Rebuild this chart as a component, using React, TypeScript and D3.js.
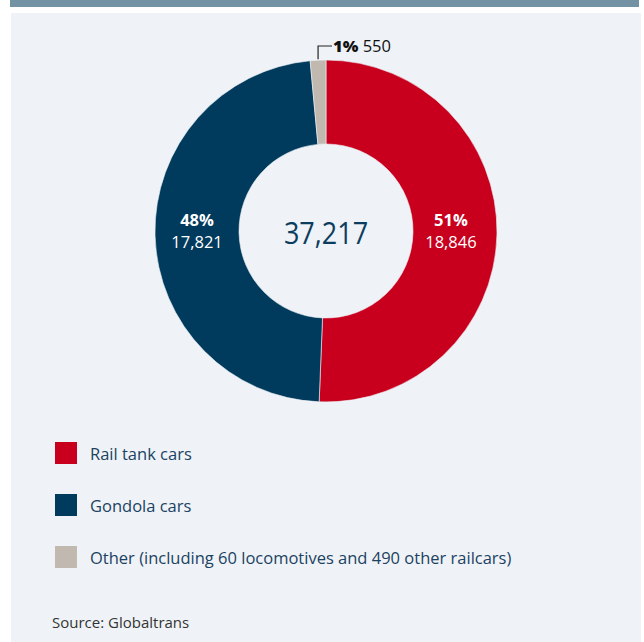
import React from "react";
import * as d3 from "d3";

const categories = ["Rail tank cars", "Gondola cars", "Other (including 60 locomotives and 490 other railcars)"];
const values = [18846, 17821, 550];
const percentLabels = ["51%", "48%", "1%"];
const valueLabels = ["18,846", "17,821", "550"];
const colors = ["#c8001e", "#003a5c", "#c1b8b0"];
const totalLabel = "37,217";
const sourceText = "Source: Globaltrans";

const W = 644;
const H = 642;
const cx = 326;
const cy = 231;
const outerR = 171;
const innerR = 87;
const font = "'Open Sans', 'Noto Sans', sans-serif";

export default function App() {
  const pie = d3.pie<number>().sort(null).value((d) => d)(values);
  const arc = d3.arc<d3.PieArcDatum<number>>().innerRadius(innerR).outerRadius(outerR);
  const labelArc = d3.arc<d3.PieArcDatum<number>>().innerRadius(innerR).outerRadius(outerR);

  const other = pie[2];
  const otherMid = (other.startAngle + other.endAngle) / 2;
  const ox = cx + Math.sin(otherMid) * outerR;
  const oy = cy - Math.cos(otherMid) * outerR;

  return (
    <svg width={W} height={H} style={{ position: "absolute", left: 0, top: 0 }}>
      <rect x={0} y={0} width={W} height={H} fill="#ffffff" />
      <rect x={10} y={0} width={629} height={7} fill="#7393a5" />
      <rect x={11} y={13} width={630} height={629} fill="#eff3f7" />
      <g transform={`translate(${cx},${cy})`}>
        {pie.map((p, i) => (
          <path key={i} d={arc(p) || ""} fill={colors[i]} stroke="#eff3f7" strokeWidth={0.6} />
        ))}
        {pie.slice(0, 2).map((p, i) => {
          const [lx] = labelArc.centroid(p);
          const x = lx + (i === 0 ? -4 : 0);
          return (
            <g key={i} fontFamily={font} fill="#ffffff" textAnchor="middle">
              <text x={x} y={-5} fontSize={16.5} fontWeight="bold">{percentLabels[i]}</text>
              <text x={x} y={17} fontSize={16.5}>{valueLabels[i]}</text>
            </g>
          );
        })}
        <text x={0} y={12} textAnchor="middle" fontFamily={font} fontSize={27} fill="#0d3d5e"
          transform="scale(1,1.12)">{totalLabel}</text>
      </g>
      <path d={`M${ox},${oy - 1} V46 H332`} fill="none" stroke="#222" strokeWidth={1.2} />
      <text x={333} y={52} fontFamily={font} fontSize={16.5} fill="#111">
        <tspan fontWeight="800">{percentLabels[2]}</tspan>
        <tspan> {valueLabels[2]}</tspan>
      </text>
      {categories.map((c, i) => (
        <g key={i}>
          <rect x={55} y={442 + i * 52} width={22} height={22} fill={colors[i]} />
          <text x={90} y={460 + i * 52} fontFamily={font} fontSize={16.5} fill="#1b4262">{c}</text>
        </g>
      ))}
      <text x={52} y={628} fontFamily={font} fontSize={15} fill="#333">{sourceText}</text>
    </svg>
  );
}
